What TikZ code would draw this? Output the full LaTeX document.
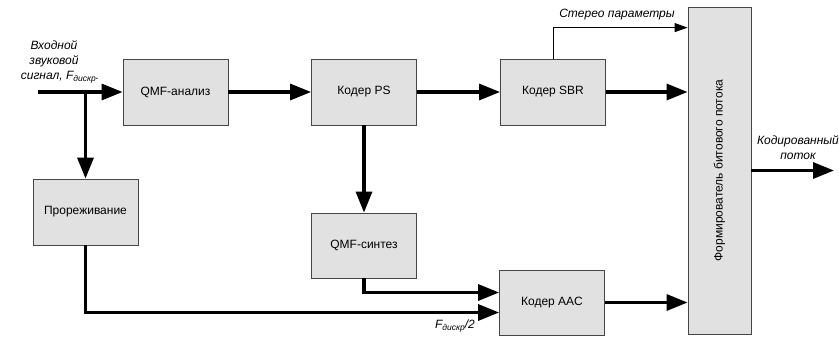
\documentclass[tikz,border=0pt]{standalone}
\usepackage{fontspec}
\setmainfont{Liberation Sans}
\usetikzlibrary{arrows.meta}
\definecolor{blokfill}{RGB}{225,225,225}
\definecolor{blokline}{RGB}{70,70,70}
\newcommand{\Fdiskr}{F\raisebox{-1.5pt}{\fontsize{8.5}{10}\selectfont дискр}}

\begin{document}
\begin{tikzpicture}[x=1pt,y=-1pt,
    every node/.style={font=\fontsize{12}{14}\selectfont},
    blok/.style={draw=blokline,fill=blokfill,line width=0.8pt,minimum width=105pt,minimum height=66pt,inner sep=0pt},
    potok/.style={line width=3.2pt,-{Triangle[length=21pt,width=16pt]}},
    tonkiy/.style={line width=0.9pt,-{Triangle[length=13pt,width=9pt]}},
    podpis/.style={font=\fontsize{12}{15}\selectfont\itshape,align=center,inner sep=0pt}]
    \useasboundingbox (0,0) rectangle (839,338);

    % bloki
    \node[blok] (qmfa) at (175.5,92) {QMF-анализ};
    \node[blok] (ps) at (364,92) {Кодер PS};
    \node[blok] (sbr) at (553,92) {Кодер SBR};
    \node[blok] (prorezh) at (85.5,212) {Прореживание};
    \node[blok,minimum height=65pt] (qmfs) at (364,245.5) {QMF-синтез};
    \node[blok,minimum height=65pt] (aac) at (552,302.5) {Кодер AAC};
    \node[blok,minimum width=63pt,minimum height=327pt] (form) at (719.5,170.5)
        {\rotatebox{90}{Формирователь битового потока}};

    % vhod i vyhod
    \coordinate (vhod) at (38,92);
    \coordinate (vyhod) at (834,170.5);
    \node[podpis] (vhodtxt) at (54,62) {Входной\\звуковой\\\hspace*{12pt}сигнал, \Fdiskr.};
    \node[podpis] (vyhodtxt) at (798,148) {Кодированный\\поток};
    \node[podpis] (stereotxt) at (617,15) {Стерео параметры};
    \node[podpis] (fpol) at (455,326) {\Fdiskr/2};

    % svyazi
    \draw[potok] (vhod) -- (qmfa);
    \draw[potok] (prorezh.north |- qmfa) -- (prorezh.north);
    \draw[potok] (qmfa) -- (ps);
    \draw[potok] (ps) -- (sbr);
    \draw[potok] (ps) -- (qmfs);
    \draw[potok] (sbr.east) -- (sbr.east -| form.west);
    \draw[tonkiy] (sbr.north) |- ([yshift=-21pt]form.north west);
    \draw[potok] (qmfs.south) |- ([yshift=10pt]aac.west);
    \draw[potok] (prorezh.south) |- ([yshift=-10pt]aac.west);
    \draw[potok] (aac.east) -- (aac.east -| form.west);
    \draw[potok] (form.east) -- (vyhod);
\end{tikzpicture}
\end{document}
